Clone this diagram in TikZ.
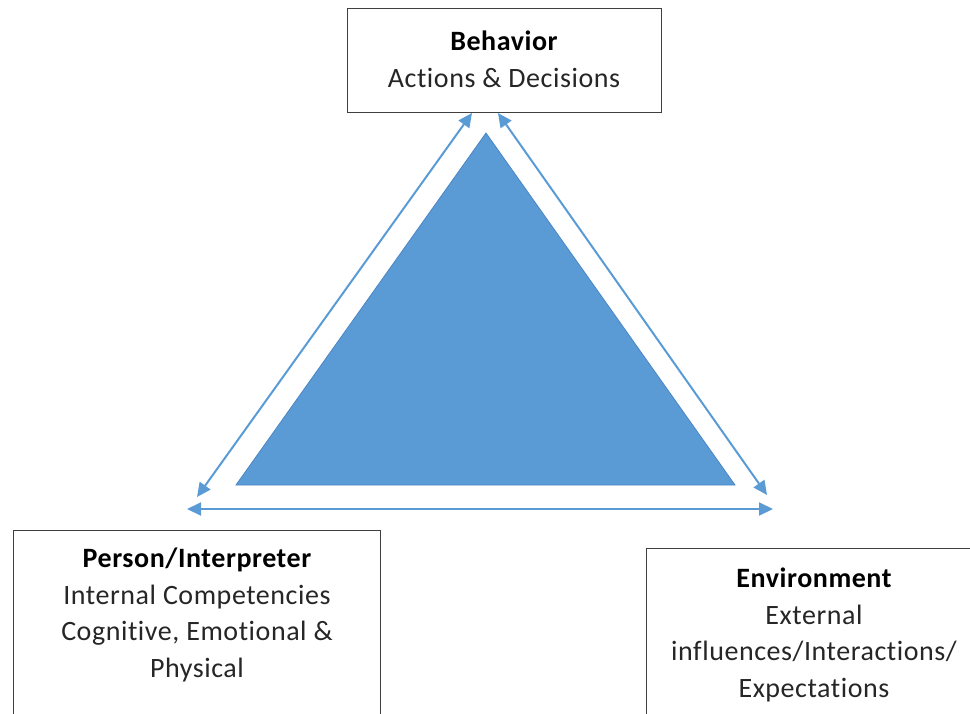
\documentclass[tikz,border=0pt]{standalone}
\usepackage{fontspec}
\setmainfont{Carlito}[LetterSpace=2, Ligatures={NoCommon}]
\usetikzlibrary{arrows.meta}
\definecolor{officeblue}{HTML}{5B9BD5}
\definecolor{edgeblue}{HTML}{4A86C5}
\definecolor{framegray}{HTML}{3F3F3F}
\definecolor{textgray}{HTML}{262626}
\tikzset{
  frame/.style={draw=framegray, line width=1.4pt, fill=white, rectangle, inner sep=0pt},
  label/.style={align=center, text=textgray, inner sep=0pt,
    font=\fontsize{28}{36.5}\selectfont},
  link/.style={draw=officeblue, line width=2pt,
    {Triangle[length=14pt,width=13pt]}-{Triangle[length=14pt,width=13pt]}},
  core/.style={fill=officeblue, draw=edgeblue, line width=0.8pt, line join=miter}
}
\begin{document}
\begin{tikzpicture}[x=1pt,y=-1pt]
  \useasboundingbox (0,0) rectangle (970,713);
  \clip (0,0) rectangle (970,713);

  % central triangle
  \coordinate (apex) at (486,133);
  \coordinate (baseL) at (236,485);
  \coordinate (baseR) at (735,485);
  \fill[core] (apex) -- (baseL) -- (baseR) -- cycle;

  % boxes
  \node[frame, anchor=north west, minimum width=314, minimum height=104] (behavior) at (347,8) {};
  \node[frame, anchor=north west, minimum width=367, minimum height=220] (person) at (13,530) {};
  \node[frame, anchor=north west, minimum width=340, minimum height=200] (environment) at (646,548) {};

  % texts
  \node[label] (behaviortext) at (504,59.5) {\textbf{\color{black}Behavior}\\Actions \& Decisions};
  \node[label] (persontext) at (197,615) {\textbf{\color{black}Person/Interpreter}\\Internal Competencies\\Cognitive, Emotional \&\\Physical};
  \node[label] (environmenttext) at (814,635) {\textbf{\color{black}Environment}\\External\\influences/Interactions/\\Expectations};

  % arrow end points
  \coordinate (bL) at (472,113);
  \coordinate (bR) at (498,113);
  \coordinate (pD) at (197,497);
  \coordinate (pH) at (187,509);
  \coordinate (eD) at (767,495);
  \coordinate (eH) at (773,509);

  % reciprocal influences
  \draw[link] (pD) -- (bL);
  \draw[link] (eD) -- (bR);
  \draw[link] (pH) -- (eH);
\end{tikzpicture}
\end{document}
